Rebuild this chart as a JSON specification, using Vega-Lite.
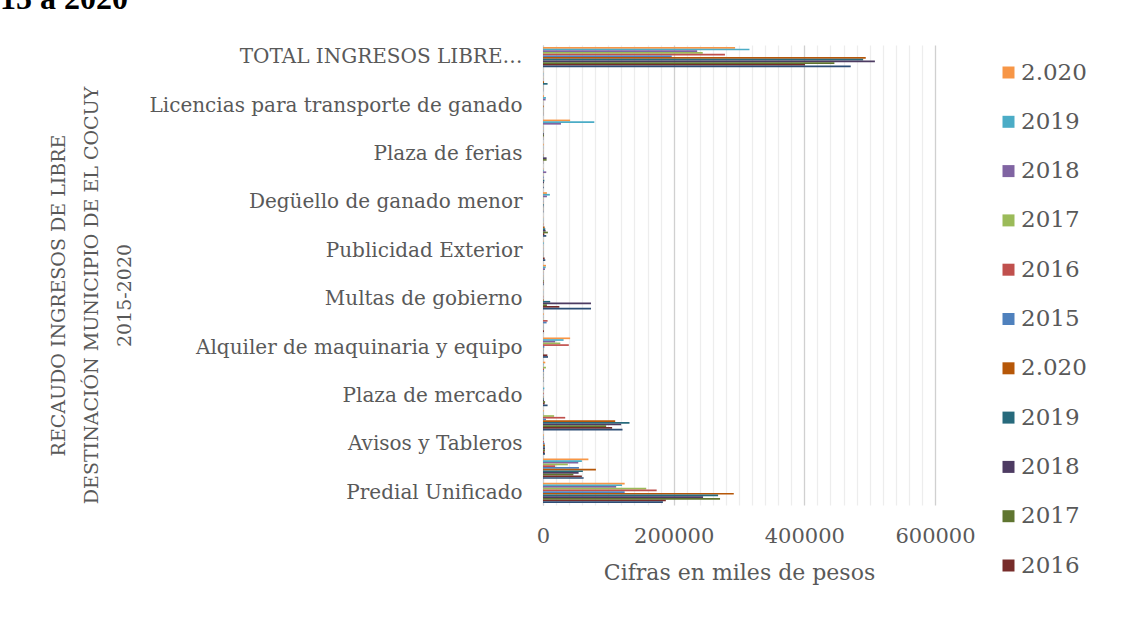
{
  "$schema": "https://vega.github.io/schema/vega-lite/v6.json",
  "width": 392,
  "height": 460,
  "autosize": {"type": "none"},
  "padding": {"left": 543, "top": 45, "right": 187, "bottom": 116},
  "background": "white",
  "title": {"text": "15 a 2020", "anchor": "start", "frame": "group", "dx": -543, "dy": 18, "offset": 22, "baseline": "alphabetic", "font": "Liberation Serif", "fontSize": 32, "fontWeight": "bold", "color": "#000000"},
  "data": {"values": [
    {"cat": "Predial Unificado", "s01": 125000, "s02": 121000, "s03": 112000, "s04": 158000, "s05": 174000, "s06": 125000, "s07": 292000, "s08": 268000, "s09": 245000, "s10": 271000, "s11": 188000, "s12": 183500},
    {"cat": "Industria y Comercio", "s01": 69500, "s02": 59500, "s03": 54000, "s04": 38000, "s05": 18700, "s06": 55000, "s07": 81000, "s08": 61000, "s09": 54500, "s10": 46500, "s11": 59500, "s12": 62200},
    {"cat": "Avisos y Tableros", "s01": 1000, "s02": 800, "s03": 800, "s04": 500, "s05": 1500, "s06": 2500, "s07": 3000, "s08": 3000, "s09": 3000, "s10": 3000, "s11": 2500, "s12": 3000},
    {"cat": "Sobretasa a la gasolina", "s01": 1000, "s02": 500, "s03": 500, "s04": 17000, "s05": 34000, "s06": 4600, "s07": 110500, "s08": 132400, "s09": 119600, "s10": 96700, "s11": 105800, "s12": 121700},
    {"cat": "Plaza de mercado", "s01": 300, "s02": 2000, "s03": 500, "s04": 300, "s05": 1000, "s06": 300, "s07": 500, "s08": 1000, "s09": 1500, "s10": 3200, "s11": 2500, "s12": 7000},
    {"cat": "Coso municipal", "s01": 3500, "s02": 800, "s03": 400, "s04": 4500, "s05": 1500, "s06": 1500, "s07": 300, "s08": 500, "s09": 300, "s10": 600, "s11": 300, "s12": 500},
    {"cat": "Alquiler de maquinaria y equipo", "s01": 41500, "s02": 31500, "s03": 18700, "s04": 26500, "s05": 39500, "s06": 2000, "s07": 500, "s08": 500, "s09": 300, "s10": 500, "s11": 6700, "s12": 7700},
    {"cat": "Arrendamientos", "s01": 1000, "s02": 300, "s03": 300, "s04": 300, "s05": 7000, "s06": 5500, "s07": 300, "s08": 300, "s09": 300, "s10": 300, "s11": 1500, "s12": 300},
    {"cat": "Multas de gobierno", "s01": 300, "s02": 300, "s03": 200, "s04": 200, "s05": 500, "s06": 300, "s07": 1000, "s08": 11000, "s09": 73500, "s10": 6000, "s11": 25000, "s12": 73500},
    {"cat": "Espectáculos públicos", "s01": 4600, "s02": 4100, "s03": 3000, "s04": 300, "s05": 300, "s06": 300, "s07": 300, "s08": 300, "s09": 300, "s10": 1000, "s11": 1000, "s12": 1000},
    {"cat": "Publicidad Exterior", "s01": 500, "s02": 1000, "s03": 300, "s04": 300, "s05": 300, "s06": 300, "s07": 300, "s08": 300, "s09": 300, "s10": 300, "s11": 2500, "s12": 3500},
    {"cat": "Degüello de ganado mayor", "s01": 300, "s02": 300, "s03": 300, "s04": 300, "s05": 500, "s06": 300, "s07": 2500, "s08": 3500, "s09": 4000, "s10": 7500, "s11": 2000, "s12": 5000},
    {"cat": "Degüello de ganado menor", "s01": 6000, "s02": 10500, "s03": 6000, "s04": 500, "s05": 300, "s06": 500, "s07": 300, "s08": 1000, "s09": 500, "s10": 300, "s11": 300, "s12": 500},
    {"cat": "Guías de movilización", "s01": 500, "s02": 1000, "s03": 5000, "s04": 300, "s05": 300, "s06": 1000, "s07": 300, "s08": 2000, "s09": 1500, "s10": 300, "s11": 200, "s12": 1000},
    {"cat": "Plaza de ferias", "s01": 1000, "s02": 300, "s03": 300, "s04": 300, "s05": 300, "s06": 300, "s07": 500, "s08": 500, "s09": 5500, "s10": 5500, "s11": 300, "s12": 300},
    {"cat": "Sobretasa bomberil", "s01": 41500, "s02": 78500, "s03": 27500, "s04": 300, "s05": 300, "s06": 300, "s07": 300, "s08": 300, "s09": 1500, "s10": 1500, "s11": 300, "s12": 300},
    {"cat": "Licencias para transporte de ganado", "s01": 1500, "s02": 4500, "s03": 4000, "s04": 300, "s05": 300, "s06": 300, "s07": 1000, "s08": 300, "s09": 300, "s10": 300, "s11": 300, "s12": 300},
    {"cat": "Otros ingresos", "s01": 300, "s02": 500, "s03": 300, "s04": 300, "s05": 300, "s06": 300, "s07": 1500, "s08": 7000, "s09": 300, "s10": 300, "s11": 300, "s12": 300},
    {"cat": "TOTAL INGRESOS LIBRE DESTINACIÓN", "s01": 294000, "s02": 316000, "s03": 236000, "s04": 244500, "s05": 278500, "s06": 197000, "s07": 494000, "s08": 490000, "s09": 508000, "s10": 446000, "s11": 401000, "s12": 471000}
  ]},
  "transform": [{"fold": ["s01", "s02", "s03", "s04", "s05", "s06", "s07", "s08", "s09", "s10", "s11", "s12"], "as": ["serie", "valor"]}],
  "mark": {"type": "bar"},
  "encoding": {
    "y": {
      "field": "cat", "type": "nominal",
      "sort": ["TOTAL INGRESOS LIBRE DESTINACIÓN", "Otros ingresos", "Licencias para transporte de ganado", "Sobretasa bomberil", "Plaza de ferias", "Guías de movilización", "Degüello de ganado menor", "Degüello de ganado mayor", "Publicidad Exterior", "Espectáculos públicos", "Multas de gobierno", "Arrendamientos", "Alquiler de maquinaria y equipo", "Coso municipal", "Plaza de mercado", "Sobretasa a la gasolina", "Avisos y Tableros", "Industria y Comercio", "Predial Unificado"],
      "scale": {"paddingInner": 0.16, "paddingOuter": 0.08},
      "axis": {
        "title": ["RECAUDO INGRESOS DE LIBRE", "DESTINACIÓN MUNICIPIO DE EL COCUY", "2015-2020"],
        "titleFont": "DejaVu Serif", "titleFontSize": 19, "titleFontWeight": "normal", "titleColor": "#595959",
        "titleAngle": -90, "titleX": -494, "titleY": 250, "titleAlign": "center", "titleBaseline": "top", "titleLineHeight": 33,
        "labelExpr": "indexof(['Predial Unificado','Avisos y Tableros','Plaza de mercado','Alquiler de maquinaria y equipo','Multas de gobierno','Publicidad Exterior','Degüello de ganado menor','Plaza de ferias','Licencias para transporte de ganado'], datum.value) >= 0 ? datum.value : (datum.value == 'TOTAL INGRESOS LIBRE DESTINACIÓN' ? 'TOTAL INGRESOS LIBRE…' : '')",
        "labelFont": "DejaVu Serif", "labelFontSize": 20, "labelColor": "#595959", "labelPadding": 21, "labelLimit": 600,
        "ticks": false, "domain": true, "domainColor": "#d0d0d0", "grid": false
      }
    },
    "yOffset": {"field": "serie", "type": "nominal", "sort": ["s01", "s02", "s03", "s04", "s05", "s06", "s07", "s08", "s09", "s10", "s11", "s12"]},
    "x": {
      "field": "valor", "type": "quantitative",
      "scale": {"domain": [0, 600000], "nice": false},
      "axis": {
        "values": [0, 20000, 40000, 60000, 80000, 100000, 120000, 140000, 160000, 180000, 200000, 220000, 240000, 260000, 280000, 300000, 320000, 340000, 360000, 380000, 400000, 420000, 440000, 460000, 480000, 500000, 520000, 540000, 560000, 580000, 600000],
        "labelExpr": "datum.value % 200000 == 0 ? format(datum.value, 'd') : ''",
        "labelFlush": false, "labelOverlap": false,
        "gridColor": {"condition": {"test": "datum.value % 200000 == 0", "value": "#d0d0d0"}, "value": "#ededed"},
        "gridWidth": 1.3,
        "ticks": false, "domain": false,
        "labelFont": "DejaVu Serif", "labelFontSize": 21, "labelColor": "#595959", "labelPadding": 20,
        "title": "Cifras en miles de pesos", "titleFont": "DejaVu Serif", "titleFontSize": 22, "titleFontWeight": "normal", "titleColor": "#595959", "titlePadding": 16
      }
    },
    "color": {
      "field": "serie", "type": "nominal",
      "scale": {
        "domain": ["s01", "s02", "s03", "s04", "s05", "s06", "s07", "s08", "s09", "s10", "s11", "s12"],
        "range": ["#F79646", "#4BACC6", "#8064A2", "#9BBB59", "#C0504D", "#4F81BD", "#B65708", "#276A7C", "#4D3B62", "#5F7530", "#772C2A", "#2C4D75"]
      },
      "legend": {
        "orient": "none", "legendX": 454, "legendY": 16, "title": null,
        "values": ["s01", "s02", "s03", "s04", "s05", "s06", "s07", "s08", "s09", "s10", "s11"],
        "labelExpr": "['2.020','2019','2018','2017','2016','2015','2.020','2019','2018','2017','2016','2015'][toNumber(substring(datum.value, 1)) - 1]",
        "symbolType": "square", "symbolSize": 144, "symbolStrokeWidth": 0,
        "labelFont": "DejaVu Serif", "labelFontSize": 23, "labelColor": "#595959", "labelOffset": 1,
        "rowPadding": 25.3
      }
    }
  },
  "config": {"view": {"stroke": null}}
}
